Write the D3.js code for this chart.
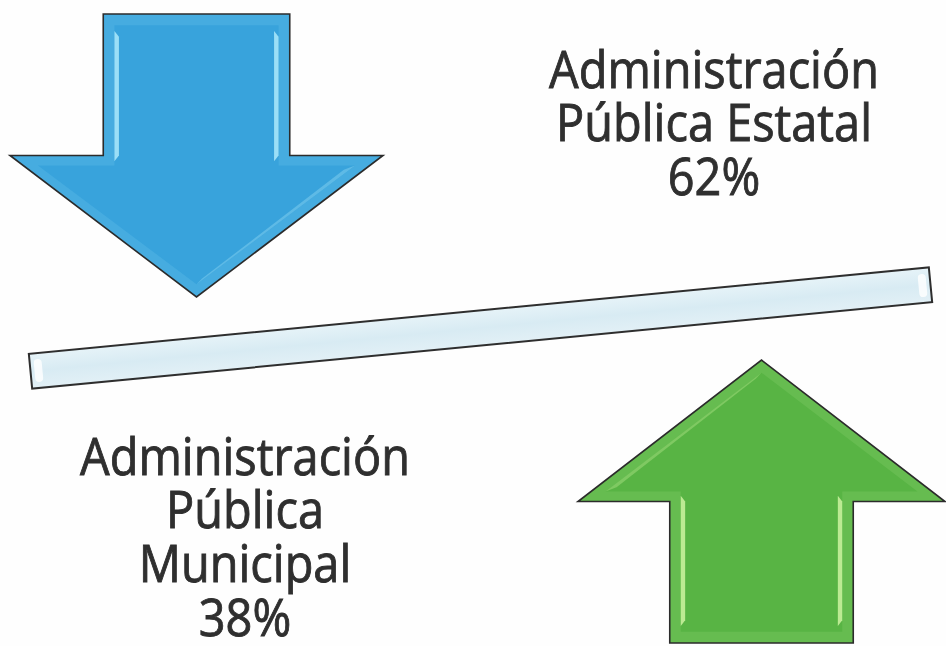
<!DOCTYPE html>
<html><head><meta charset="utf-8">
<script src="https://cdn.jsdelivr.net/npm/d3@7"></script>
<style>html,body{margin:0;padding:0;background:#fff;}svg{display:block;}</style>
</head><body>
<script>
// ---- data ----
const categories = ["Administración Pública Estatal", "Administración Pública Municipal"];
const values = [62, 38];
const labelLines = [
  ["Administración", "Pública Estatal", "62%"],
  ["Administración", "Pública", "Municipal", "38%"]
];
const directions = ["down", "up"];
const colors = ["#38a3dc", "#58b444"];
const bevelColors = ["#46ace0", "#66bc50"];
const shineColors = ["#a6e6fa", "#c8f09c"];

const W = 946, H = 646;
const svg = d3.select("body").append("svg").attr("width", W).attr("height", H);
svg.append("rect").attr("width", W).attr("height", H).attr("fill", "#fefefe");

// arrow outline in unit space (pointing down: v=0 top, v=1 tip)
const arrowUnit = [[0.25,0],[0.75,0],[0.75,0.5],[1,0.5],[0.5,1],[0,0.5],[0.25,0.5]];
const arrowInner = [[0.28,0.04],[0.72,0.04],[0.72,0.535],[0.925,0.535],[0.5,0.955],[0.075,0.535],[0.28,0.535]];

const boxes = [
  {x:[10,383], y:[14,297]},   // blue, down
  {x:[578,945], y:[643,360]}  // green, up (y reversed)
];

const line = d3.line();

boxes.forEach((b, i) => {
  const sx = d3.scaleLinear().domain([0,1]).range(b.x);
  const sy = d3.scaleLinear().domain([0,1]).range(b.y);
  const g = svg.append("g").attr("class", "arrow");
  const pts = arrowUnit.map(p => [sx(p[0]), sy(p[1])]);
  g.append("path").attr("d", line(pts) + "Z")
    .attr("fill", bevelColors[i]).attr("stroke", "#2b2b2b").attr("stroke-width", 1.6)
    .attr("stroke-linejoin", "miter");
  const inner = arrowInner.map(p => [sx(p[0]), sy(p[1])]);
  g.append("path").attr("d", line(inner) + "Z").attr("fill", colors[i]);
  // vertical shine strips on the shaft
  [[0.28,0.292],[0.708,0.72]].forEach(r => {
    g.append("path")
      .attr("d", line([[sx(r[0]),sy(0.06)],[sx(r[1]),sy(0.08)],[sx(r[1]),sy(0.50)],[sx(r[0]),sy(0.52)]]) + "Z")
      .attr("fill", shineColors[i]).attr("opacity", 0.9);
  });
  // lighter band along one diagonal of the head
  const diag = i === 0
    ? [[0.925,0.535],[0.5,0.955],[0.515,0.935],[0.895,0.55]]
    : [[0.075,0.535],[0.5,0.955],[0.485,0.935],[0.105,0.55]];
  g.append("path").attr("d", line(diag.map(p => [sx(p[0]), sy(p[1])])) + "Z")
    .attr("fill", shineColors[i]).attr("opacity", 0.35);
});

// ---- seesaw bar, tilt derived from the share difference ----
const barX = d3.scaleLinear().domain([0,1]).range([30.5, 930.5]);
const tiltScale = d3.scaleLinear().domain([0, 100]).range([0, 360]); // px rise per share difference
const rise = tiltScale(values[0] - values[1]);        // ~86px
const cy = 328;
const barY = d3.scaleLinear().domain([0,1]).range([cy + rise/2, cy - rise/2]);
const len = Math.hypot(barX(1)-barX(0), barY(1)-barY(0));
const ang = Math.atan2(barY(1)-barY(0), barX(1)-barX(0)) * 180 / Math.PI;
const thick = 35;
const bar = svg.append("g")
  .attr("transform", `translate(${(barX(0)+barX(1))/2},${cy}) rotate(${ang})`);
const bg = bar.append("linearGradient").attr("id","barGrad").attr("x1",0).attr("y1",0).attr("x2",0).attr("y2",1);
bg.append("stop").attr("offset","0%").attr("stop-color","#e6f3f8");
bg.append("stop").attr("offset","50%").attr("stop-color","#d8ebf3");
bg.append("stop").attr("offset","100%").attr("stop-color","#e2f0f6");
bar.append("rect").attr("x", -len/2).attr("y", -thick/2).attr("width", len).attr("height", thick)
  .attr("fill", "url(#barGrad)").attr("stroke", "#2e2e2e").attr("stroke-width", 2);
bar.append("rect").attr("x", -len/2 + 4).attr("y", -thick/2 + 6).attr("width", 8).attr("height", thick - 12)
  .attr("rx", 4).attr("fill", "#ffffff").attr("opacity", 0.8);
bar.append("rect").attr("x", len/2 - 12).attr("y", -thick/2 + 6).attr("width", 8).attr("height", thick - 12)
  .attr("rx", 4).attr("fill", "#ffffff").attr("opacity", 0.8);

// ---- labels ----
const labelPos = [
  {cx: 714, baselines: [88, 141, 195]},
  {cx: 245, baselines: [475, 528, 582, 636]}
];
const fontSize = 52;
const targetWidth = 330;
labelPos.forEach((lp, i) => {
  const g = svg.append("g");
  const t = g.selectAll("text").data(labelLines[i]).join("text")
    .attr("x", 0).attr("y", (d, j) => lp.baselines[j])
    .attr("text-anchor", "middle")
    .attr("font-family", "'Open Sans', 'Noto Sans', sans-serif")
    .attr("font-size", fontSize)
    .attr("fill", "#2f2f2f")
    .attr("stroke", "#2f2f2f").attr("stroke-width", 0.9)
    .text(d => d);
  const w = t.nodes()[0].getComputedTextLength();
  const s = targetWidth / w;
  g.attr("transform", `translate(${lp.cx},0) scale(${s},1)`);
});
</script>
</body></html>
